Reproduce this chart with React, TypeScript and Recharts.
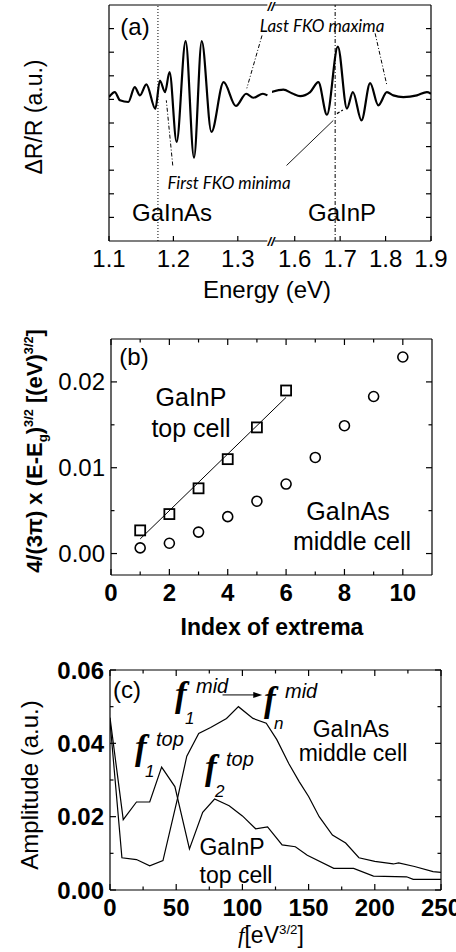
import React from "react";
import { Line, LineChart, ReferenceLine, Scatter, ScatterChart, XAxis, YAxis } from "recharts";

// (a) electroreflectance spectrum, two energy windows
const energyLow = [1.1, 1.109, 1.117, 1.13, 1.14, 1.148, 1.158, 1.172, 1.179, 1.187, 1.194, 1.205, 1.219, 1.232, 1.244, 1.259, 1.278, 1.297, 1.313, 1.324, 1.339, 1.346];
const drLow = [0.1, 0.31, -0.04, -0.11, 0.52, 0.17, 0.64, -0.4, 0.8, 0.31, 1.16, -1.8, 2.47, -2.47, 2.47, -1.38, 0.73, -0.28, 0.24, 0.07, 0.24, 0.17];
const energyHigh = [1.549, 1.575, 1.595, 1.612, 1.634, 1.652, 1.671, 1.695, 1.715, 1.728, 1.747, 1.766, 1.784, 1.803, 1.817, 1.839, 1.869, 1.891, 1.9];
const drHigh = [0.31, 0.41, 0.25, 0.14, 0.31, 0.73, -0.65, 2.24, -0.39, 0.31, -0.89, 0.69, -0.25, 0.31, 0.17, 0.1, 0.17, 0.31, 0.24];
const energyTicksLow = [1.1, 1.2, 1.3];
const energyTicksHigh = [1.6, 1.7, 1.8, 1.9];
const drTicks = [-5, -4, -3, -2, -1, 0, 1, 2, 3];
const gapGaInAs = 1.176;
const gapGaInP = 1.689;

// (b) extrema positions
const indexTop = [1, 2, 3, 4, 5, 6];
const valueTop = [0.0027, 0.0046, 0.0076, 0.011, 0.0147, 0.019];
const indexMid = [1, 2, 3, 4, 5, 6, 7, 8, 9, 10];
const valueMid = [0.00066, 0.0012, 0.0025, 0.0043, 0.0061, 0.0081, 0.0112, 0.0149, 0.0183, 0.0229];
const fitIndex = [1, 6];
const fitValue = [0.0017, 0.0182];
const indexTicks = [0, 1, 2, 3, 4, 5, 6, 7, 8, 9, 10];
const indexLabels = [0, 2, 4, 6, 8, 10];
const extTicks = [0, 0.005, 0.01, 0.015, 0.02];
const extLabels = [0, 0.01, 0.02];

// (c) Fourier amplitude
const freqMid = [0, 9, 20, 30, 40, 51, 58, 67, 76, 88, 97, 108, 118, 126, 135, 143, 150, 158, 168, 178, 188, 200, 214, 218, 230, 244, 250];
const ampMid = [0.046, 0.0088, 0.0083, 0.0066, 0.008, 0.025, 0.0365, 0.0427, 0.0443, 0.0468, 0.05, 0.0468, 0.0455, 0.041, 0.0345, 0.0295, 0.0255, 0.02, 0.015, 0.0128, 0.0088, 0.0078, 0.0071, 0.0074, 0.0064, 0.005, 0.0048];
const freqTop = [0, 10, 20, 30, 39, 49, 60, 70, 79, 90, 100, 110, 119, 130, 140, 149, 169, 184, 199, 224, 229, 250];
const ampTop = [0.047, 0.0192, 0.024, 0.024, 0.0335, 0.0282, 0.0112, 0.0212, 0.0248, 0.023, 0.0202, 0.0167, 0.0172, 0.0123, 0.0118, 0.0095, 0.0059, 0.0059, 0.0038, 0.0036, 0.0029, 0.0029];
const freqTicks = [0, 25, 50, 75, 100, 125, 150, 175, 200, 225, 250];
const freqLabels = [0, 50, 100, 150, 200, 250];
const ampTicks = [0, 0.01, 0.02, 0.03, 0.04, 0.05, 0.06];
const ampLabels = [0, 0.02, 0.04, 0.06];

const SANS = '"Liberation Sans", Arial, Helvetica, sans-serif';
const SERIF = '"Liberation Serif", "Times New Roman", serif';
const NOTE = 'Lato, "Open Sans", sans-serif';

type Side = "bottom" | "top" | "left" | "right";

// inward tick marks, labels outside
function tickMaker(side: Side, opts: { major?: number[]; label?: boolean; fmt?: (v: number) => string; bold?: boolean; len?: number } = {}) {
  return (props: any) => {
    const { x, y, payload } = props;
    const v = Number(payload.value);
    const isMajor = !opts.major || opts.major.some((m) => Math.abs(m - v) < 1e-9);
    const len = isMajor ? opts.len ?? 6 : 3.5;
    let x2 = x;
    let y2 = y;
    if (side === "bottom") y2 = y - len;
    if (side === "top") y2 = y + len;
    if (side === "left") x2 = x + len;
    if (side === "right") x2 = x - len;
    const text = opts.label && isMajor ? (opts.fmt ? opts.fmt(v) : String(v)) : null;
    const font = { fontFamily: SANS, fontSize: 24, fontWeight: opts.bold ? 700 : 400, fill: "#000" };
    return (
      <g>
        {len > 0 && <line x1={x} y1={y} x2={x2} y2={y2} stroke="#000" strokeWidth={1.2} />}
        {text !== null && side === "bottom" && (
          <text x={x} y={y + 26} textAnchor="middle" {...font}>
            {text}
          </text>
        )}
        {text !== null && side === "left" && (
          <text x={x - 6} y={y + 8.5} textAnchor="end" {...font}>
            {text}
          </text>
        )}
      </g>
    );
  };
}

function Txt({ x, y, children, size = 24, weight = 400, italic = false, family = SANS, rotate = 0, bg }: any) {
  return (
    <div
      style={{
        position: "absolute",
        left: x,
        top: y,
        transform: `translate(-50%, -50%)${rotate ? ` rotate(${rotate}deg)` : ""}`,
        fontSize: size,
        fontWeight: weight,
        fontStyle: italic ? "italic" : "normal",
        fontFamily: family,
        whiteSpace: "nowrap",
        lineHeight: 1,
        color: "#000",
        background: bg,
      }}
    >
      {children}
    </div>
  );
}

const Sup = ({ children }: any) => <span style={{ fontSize: "0.58em", position: "relative", top: "-0.7em" }}>{children}</span>;
const Sub = ({ children }: any) => <span style={{ fontSize: "0.6em", position: "relative", top: "0.35em" }}>{children}</span>;

// bold italic f with superscript / subscript, (x, y) = centre of the f
function FSym({ x, y, sup, sub }: any) {
  return (
    <div style={{ position: "absolute", left: x - 8, top: y - 17, width: 60, height: 46, fontFamily: SANS, color: "#000", lineHeight: 1 }}>
      <span style={{ position: "absolute", left: -1, top: -2, fontFamily: SERIF, fontSize: 35, fontWeight: 700, fontStyle: "italic" }}>f</span>
      <span style={{ position: "absolute", left: 20, top: -3, fontSize: 20, fontStyle: "italic" }}>{sup}</span>
      <span style={{ position: "absolute", left: 9, top: 31, fontSize: 17, fontStyle: "italic" }}>{sub}</span>
    </div>
  );
}

const frame = { stroke: "#000", strokeWidth: 1.2 };

function arrowShape(props: any) {
  const { x1, y1, x2, y2 } = props;
  return (
    <g>
      <line x1={x1} y1={y1} x2={x2 - 6} y2={y2} stroke="#000" strokeWidth={1} />
      <polygon points={`${x2},${y2} ${x2 - 9},${y2 - 3} ${x2 - 9},${y2 + 3}`} fill="#000" />
    </g>
  );
}

export default function App() {
  const lowData = energyLow.map((e, i) => ({ e, v: drLow[i] }));
  const highData = energyHigh.map((e, i) => ({ e, v: drHigh[i] }));
  const topData = indexTop.map((x, i) => ({ x, y: valueTop[i] }));
  const midData = indexMid.map((x, i) => ({ x, y: valueMid[i] }));
  const fitData = fitIndex.map((x, i) => ({ x, y: fitValue[i] }));
  const midAmp = freqMid.map((x, i) => ({ x, y: ampMid[i] }));
  const topAmp = freqTop.map((x, i) => ({ x, y: ampTop[i] }));

  const axisCommon = { tickSize: 0, tickMargin: 0, tickLine: false, axisLine: frame, interval: 0 as const, allowDataOverflow: true };

  return (
    <div style={{ position: "relative", width: 456, height: 952, overflow: "hidden", background: "#fff", fontFamily: SANS }}>
      <style>{"body{margin:0}"}</style>

      {/* (a) low energy window */}
      <div style={{ position: "absolute", left: 0, top: 0 }}>
        <LineChart width={271} height={300} margin={{ top: 4, right: 1, bottom: 58, left: 108 }}>
          <XAxis xAxisId="b" type="number" dataKey="e" domain={[1.1, 1.35]} ticks={energyTicksLow} height={1} {...axisCommon} tick={tickMaker("bottom", { label: true, len: 5 })} />
          <XAxis xAxisId="t" orientation="top" type="number" dataKey="e" domain={[1.1, 1.35]} ticks={energyTicksLow} height={1} {...axisCommon} tick={tickMaker("top", { len: 0 })} />
          <YAxis yAxisId="l" type="number" domain={[-6, 4]} ticks={drTicks} width={1} {...axisCommon} tick={tickMaker("left", { len: 5 })} />
          <ReferenceLine xAxisId="b" yAxisId="l" x={gapGaInAs} stroke="#000" strokeWidth={1} strokeDasharray="1 2" />
          <ReferenceLine xAxisId="b" yAxisId="l" segment={[{ x: 1.3376, y: 2.71 }, { x: 1.314, y: 0.47 }]} stroke="#000" strokeWidth={1} strokeDasharray="4 2 1 2" ifOverflow="visible" />
          <ReferenceLine xAxisId="b" yAxisId="l" segment={[{ x: 1.199, y: -2.8 }, { x: 1.189, y: -0.04 }]} stroke="#000" strokeWidth={1} strokeDasharray="4 2 1 2" ifOverflow="visible" />
          <Line xAxisId="b" yAxisId="l" data={lowData} dataKey="v" type="monotone" stroke="#000" strokeWidth={2.2} dot={false} isAnimationActive={false} />
        </LineChart>
      </div>

      {/* (a) high energy window */}
      <div style={{ position: "absolute", left: 271, top: 0 }}>
        <LineChart width={185} height={300} margin={{ top: 4, right: 24, bottom: 58, left: 1 }}>
          <XAxis xAxisId="b" type="number" dataKey="e" domain={[1.55, 1.9]} ticks={energyTicksHigh} height={1} {...axisCommon} tick={tickMaker("bottom", { label: true, len: 5 })} />
          <XAxis xAxisId="t" orientation="top" type="number" dataKey="e" domain={[1.55, 1.9]} ticks={energyTicksHigh} height={1} {...axisCommon} tick={tickMaker("top", { len: 0 })} />
          <YAxis yAxisId="r" orientation="right" type="number" domain={[-6, 4]} ticks={drTicks} width={1} {...axisCommon} tick={tickMaker("right", { len: 5 })} />
          <ReferenceLine xAxisId="b" yAxisId="r" x={gapGaInP} stroke="#000" strokeWidth={1} strokeDasharray="4 2 1 2" />
          <ReferenceLine xAxisId="b" yAxisId="r" segment={[{ x: 1.777, y: 2.8 }, { x: 1.803, y: 0.59 }]} stroke="#000" strokeWidth={1} strokeDasharray="4 2 1 2" ifOverflow="visible" />
          <ReferenceLine xAxisId="b" yAxisId="r" segment={[{ x: 1.582, y: -2.8 }, { x: 1.685, y: -0.89 }]} stroke="#000" strokeWidth={0.9} ifOverflow="visible" />
          <ReferenceLine xAxisId="b" yAxisId="r" segment={[{ x: 1.693, y: -0.6 }, { x: 1.706, y: -0.45 }]} stroke="#000" strokeWidth={1.4} strokeDasharray="3 2" ifOverflow="visible" />
          <Line xAxisId="b" yAxisId="r" data={highData} dataKey="v" type="monotone" stroke="#000" strokeWidth={2.2} dot={false} isAnimationActive={false} />
        </LineChart>
      </div>

      {/* (b) */}
      <div style={{ position: "absolute", left: 0, top: 300 }}>
        <ScatterChart width={456} height={330} margin={{ top: 38, right: 23, bottom: 54, left: 110 }}>
          <XAxis xAxisId="b" type="number" dataKey="x" domain={[0, 11]} ticks={indexTicks} height={1} {...axisCommon} tick={tickMaker("bottom", { label: true, major: indexLabels, bold: true })} />
          <XAxis xAxisId="t" orientation="top" type="number" dataKey="x" domain={[0, 11]} ticks={indexTicks} height={1} {...axisCommon} tick={tickMaker("top", { major: indexLabels })} />
          <YAxis yAxisId="l" type="number" dataKey="y" domain={[-0.0025, 0.025]} ticks={extTicks} width={1} {...axisCommon} tick={tickMaker("left", { label: true, major: extLabels, fmt: (v) => v.toFixed(2) })} />
          <YAxis yAxisId="r" orientation="right" type="number" dataKey="y" domain={[-0.0025, 0.025]} ticks={extTicks} width={1} {...axisCommon} tick={tickMaker("right", { major: extLabels })} />
          <Scatter xAxisId="b" yAxisId="l" data={fitData} line={{ stroke: "#000", strokeWidth: 1 }} lineType="joint" shape={() => <g />} isAnimationActive={false} />
          <Scatter xAxisId="b" yAxisId="l" data={topData} shape={(p: any) => <rect x={p.cx - 5} y={p.cy - 5} width={10} height={10} fill="none" stroke="#000" strokeWidth={1.8} />} isAnimationActive={false} />
          <Scatter xAxisId="b" yAxisId="l" data={midData} shape={(p: any) => <circle cx={p.cx} cy={p.cy} r={5} fill="none" stroke="#000" strokeWidth={1.6} />} isAnimationActive={false} />
        </ScatterChart>
      </div>

      {/* (c) */}
      <div style={{ position: "absolute", left: 0, top: 620 }}>
        <LineChart width={456} height={332} margin={{ top: 49, right: 14, bottom: 61, left: 109 }}>
          <XAxis xAxisId="b" type="number" dataKey="x" domain={[0, 250]} ticks={freqTicks} height={1} {...axisCommon} tick={tickMaker("bottom", { label: true, major: freqLabels, bold: true })} />
          <XAxis xAxisId="t" orientation="top" type="number" dataKey="x" domain={[0, 250]} ticks={freqTicks} height={1} {...axisCommon} tick={tickMaker("top", { major: freqLabels })} />
          <YAxis yAxisId="l" type="number" domain={[0, 0.06]} ticks={ampTicks} width={1} {...axisCommon} tick={tickMaker("left", { label: true, major: ampLabels, bold: true, fmt: (v) => v.toFixed(2) })} />
          <YAxis yAxisId="r" orientation="right" type="number" domain={[0, 0.06]} ticks={ampTicks} width={1} {...axisCommon} tick={tickMaker("right", { major: ampLabels })} />
          <ReferenceLine xAxisId="b" yAxisId="l" segment={[{ x: 85, y: 0.0532 }, { x: 115, y: 0.0532 }]} ifOverflow="visible" shape={arrowShape} />
          <Line xAxisId="b" yAxisId="l" data={midAmp} dataKey="y" type="linear" stroke="#000" strokeWidth={1.2} dot={false} isAnimationActive={false} />
          <Line xAxisId="b" yAxisId="l" data={topAmp} dataKey="y" type="linear" stroke="#000" strokeWidth={1.2} dot={false} isAnimationActive={false} />
        </LineChart>
      </div>

      {/* texts (a) */}
      <Txt x={271} y={6} size={13} weight={700} italic bg="#fff">//</Txt>
      <Txt x={271} y={241} size={13} weight={700} italic bg="#fff">//</Txt>
      <Txt x={135} y={27}>(a)</Txt>
      <Txt x={322} y={25} size={17} italic family={NOTE}>Last FKO maxima</Txt>
      <Txt x={229} y={182} size={17} italic family={NOTE}>First FKO minima</Txt>
      <Txt x={172} y={213}>GaInAs</Txt>
      <Txt x={342} y={213}>GaInP</Txt>
      <Txt x={267} y={290}>Energy (eV)</Txt>
      <Txt x={34} y={117} size={23} rotate={-90}>ΔR/R (a.u.)</Txt>

      {/* texts (b) */}
      <Txt x={134} y={357}>(b)</Txt>
      <Txt x={191} y={397} size={25}>GaInP</Txt>
      <Txt x={191} y={428} size={25}>top cell</Txt>
      <Txt x={348} y={511} size={25}>GaInAs</Txt>
      <Txt x={352} y={541} size={25}>middle cell</Txt>
      <Txt x={272} y={627} size={23} weight={700}>Index of extrema</Txt>
      <Txt x={35} y={451} size={22} weight={700} rotate={-90}>
        4/(3π) x (E-E<Sub>g</Sub>)<Sup>3/2</Sup> [(eV)<Sup>3/2</Sup>]
      </Txt>

      {/* texts (c) */}
      <Txt x={127} y={690}>(c)</Txt>
      <FSym x={184} y={696} sup="mid" sub="1" />
      <FSym x={273} y={701} sup="mid" sub="n" />
      <FSym x={144} y={749} sup="top" sub="1" />
      <FSym x={214} y={769} sup="top" sub="2" />
      <Txt x={351} y={729} size={23}>GaInAs</Txt>
      <Txt x={353} y={753} size={23}>middle cell</Txt>
      <Txt x={232} y={847} size={23}>GaInP</Txt>
      <Txt x={236} y={875} size={23}>top cell</Txt>
      <Txt x={271} y={935} size={23}>
        <span style={{ fontFamily: SERIF, fontStyle: "italic" }}>f</span>[eV<Sup>3/2</Sup>]
      </Txt>
      <Txt x={30} y={785} rotate={-90}>Amplitude (a.u.)</Txt>
    </div>
  );
}
